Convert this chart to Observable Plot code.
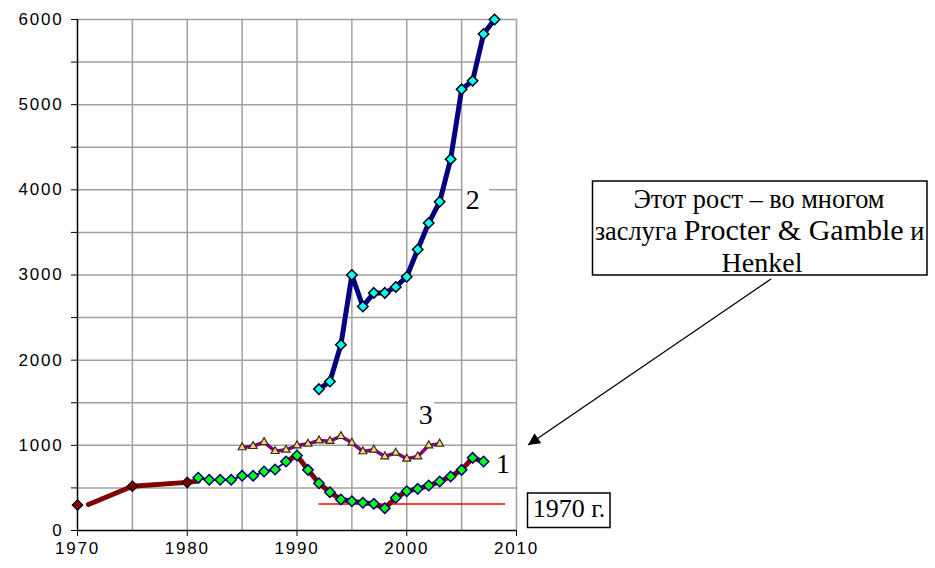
<!DOCTYPE html>
<html><head><meta charset="utf-8">
<script src="https://cdn.jsdelivr.net/npm/d3@7"></script>
<script src="https://cdn.jsdelivr.net/npm/@observablehq/plot@0.6"></script>
<style>
html,body{margin:0;padding:0;background:#fff;}
#chart{width:935px;height:568px;}
</style></head><body><div id="chart"></div>
<script>
// Series 2 (navy line, cyan diamonds)
const s2Years = [1992,1993,1994,1995,1996,1997,1998,1999,2000,2001,2002,2003,2004,2005,2006,2007,2008];
const s2Values = [1660,1750,2180,3000,2630,2790,2790,2860,2980,3300,3610,3860,4360,5180,5280,5830,6000];
// Series 1 (green diamonds)
const s1Years = [1981,1982,1983,1984,1985,1986,1987,1988,1989,1990,1991,1992,1993,1994,1995,1996,1997,1998,1999,2000,2001,2002,2003,2004,2005,2006,2007];
const s1Values = [620,595,595,595,642,642,693,716,810,880,712,555,450,364,344,325,313,262,384,462,489,528,575,634,712,853,810];
// Series 3 (triangles)
const s3Years = [1985,1986,1987,1988,1989,1990,1991,1992,1993,1994,1995,1996,1997,1998,1999,2000,2001,2002,2003];
const s3Values = [975,990,1037,931,947,998,1018,1057,1049,1107,1030,928,947,869,912,842,869,998,1018];
// Early dark red series
const earlyLineYears = [1971,1975,1980,1981];
const earlyLineValues = [305,520,565,580];
const earlyMarkerYears = [1970,1975,1980];
const earlyMarkerValues = [300,520,565];
// 1970 level reference line
const refLevelFrom = 1992;
const refLevelTo = 2009;
const refLevelValue = 310;
// Axes
const xTicks = [1970,1980,1990,2000,2010];
const xGrid = [1975,1980,1985,1990,1995,2000,2005,2010];
const yTicks = [0,500,1000,1500,2000,2500,3000,3500,4000,4500,5000,5500,6000];
const yGrid = [500,1000,1500,2000,2500,3000,3500,4000,4500,5000,5500,6000];
// Texts
const seriesLabels = ["1","2","3"];
const noteLine1 = "Этот рост – во многом";
const noteLine2a = "заслуга ";
const noteLine2b = "Procter & Gamble";
const noteLine2c = " и";
const noteLine3 = "Henkel";
const refLabel = "1970 г.";

const rows = (xs, ys) => xs.map((x, i) => ({x, y: ys[i]}));
const s1 = rows(s1Years, s1Values);
const s2 = rows(s2Years, s2Values);
const s3 = rows(s3Years, s3Values);
const early = rows(earlyLineYears, earlyLineValues);
const earlyM = rows(earlyMarkerYears, earlyMarkerValues);

const plot = Plot.plot({
  width: 935, height: 568,
  marginLeft: 77, marginRight: 419, marginTop: 19, marginBottom: 38,
  style: {fontFamily: "'Liberation Sans', Arial, sans-serif", fontSize: "17px", color: "#000", background: "#fff", overflow: "visible"},
  x: {domain: [1970, 2010], ticks: xTicks, tickSize: 6, tickPadding: 5, tickFormat: d => String(d), label: null},
  y: {domain: [0, 6000], ticks: yTicks, tickSize: 6, tickPadding: 8, tickFormat: d => d % 1000 === 0 ? String(d) : "", label: null},
  marks: [
    Plot.ruleX(xGrid, {stroke: "#a0a0a0", strokeWidth: 1.5}),
    Plot.ruleY(yGrid, {stroke: "#a0a0a0", strokeWidth: 1.5}),
    Plot.ruleX([1970], {stroke: "#000", strokeWidth: 1.5}),
    Plot.ruleY([0], {stroke: "#000", strokeWidth: 1.5}),
    Plot.ruleY([{y: refLevelValue, x1: refLevelFrom, x2: refLevelTo}], {y: "y", x1: "x1", x2: "x2", stroke: "#ff0000", strokeWidth: 1.5}),
    Plot.line(s3, {x: "x", y: "y", stroke: "#800080", strokeWidth: 3.5}),
    Plot.dot(s3, {x: "x", y: "y", symbol: "triangle2", r: 3.8, fill: "#ffcc99", stroke: "#333300", strokeWidth: 1.2}),
    Plot.line(early, {x: "x", y: "y", stroke: "#800000", strokeWidth: 5, strokeLinecap: "round"}),
    Plot.line(s1.filter(d => d.x >= 1989), {x: "x", y: "y", stroke: "#800000", strokeWidth: 5, strokeLinecap: "round"}),
    Plot.line(s1.filter(d => d.x <= 1989), {x: "x", y: "y", stroke: "#000080", strokeWidth: 2}),
    Plot.dot(s1, {x: "x", y: "y", symbol: "diamond2", r: 4.7, fill: "#00ff00", stroke: "#000080", strokeWidth: 1.5}),
    Plot.dot(earlyM, {x: "x", y: "y", symbol: "diamond2", r: 4.7, fill: "#800000", stroke: "#000", strokeWidth: 1.2}),
    Plot.line(s2, {x: "x", y: "y", stroke: "#000080", strokeWidth: 5, strokeLinecap: "round", strokeLinejoin: "round"}),
    Plot.dot(s2, {x: "x", y: "y", symbol: "diamond2", r: 4.7, fill: "#00ffff", stroke: "#000", strokeWidth: 1.5})
  ]
});
document.getElementById("chart").appendChild(plot);

const svg = d3.select(plot);
// axis tick label font (only axis texts exist at this point)
svg.selectAll("g").filter(function() { return this.getAttribute("font-size"); }).attr("font-size", null);
svg.selectAll("text")
  .attr("font-size", null)
  .style("font-size", "17px").style("letter-spacing", "1.8px")
  .style("font-family", "'Liberation Sans', Arial, sans-serif").style("fill", "#000");

// Annotations
const serif = "'Liberation Serif', 'Times New Roman', serif";
const g = svg.append("g").attr("font-family", serif).attr("fill", "#000");
g.append("rect").attr("x", 463).attr("y", 185).attr("width", 26).attr("height", 45).attr("fill", "#fff");
g.append("rect").attr("x", 408).attr("y", 395).attr("width", 26).attr("height", 34).attr("fill", "#fff");
g.append("text").attr("x", 503).attr("y", 472.5).attr("text-anchor", "middle").attr("font-size", 28).text(seriesLabels[0]);
g.append("text").attr("x", 472.7).attr("y", 209.3).attr("text-anchor", "middle").attr("font-size", 28).text(seriesLabels[1]);
g.append("text").attr("x", 425.8).attr("y", 424.3).attr("text-anchor", "middle").attr("font-size", 28).text(seriesLabels[2]);
g.append("rect").attr("x", 527.5).attr("y", 493).attr("width", 82.5).attr("height", 34.5).attr("fill", "#fff").attr("stroke", "#000").attr("stroke-width", 1.5);
g.append("text").attr("x", 569).attr("y", 517).attr("text-anchor", "middle").attr("font-size", 26).text(refLabel);
g.append("rect").attr("x", 592.5).attr("y", 181).attr("width", 334.5).attr("height", 94).attr("fill", "#fff").attr("stroke", "#000").attr("stroke-width", 1.5);
g.append("text").attr("x", 759).attr("y", 208).attr("text-anchor", "middle").attr("font-size", 26.3).text(noteLine1);
const t2 = g.append("text").attr("x", 759.5).attr("y", 240).attr("text-anchor", "middle");
t2.append("tspan").attr("font-size", 26.3).text(noteLine2a);
t2.append("tspan").attr("font-size", 30).text(noteLine2b);
t2.append("tspan").attr("font-size", 26.3).text(noteLine2c);
g.append("text").attr("x", 762).attr("y", 272).attr("text-anchor", "middle").attr("font-size", 28).text(noteLine3);
svg.append("defs").append("marker").attr("id", "ah").attr("viewBox", "0 0 10 10").attr("refX", 10).attr("refY", 5)
  .attr("markerWidth", 17).attr("markerHeight", 12).attr("markerUnits", "userSpaceOnUse").attr("orient", "auto")
  .append("path").attr("d", "M0,0L10,5L0,10Z").attr("fill", "#000");
svg.append("line").attr("x1", 771).attr("y1", 279).attr("x2", 528).attr("y2", 445).attr("stroke", "#000").attr("stroke-width", 1.3).attr("marker-end", "url(#ah)");
</script>
</body></html>
